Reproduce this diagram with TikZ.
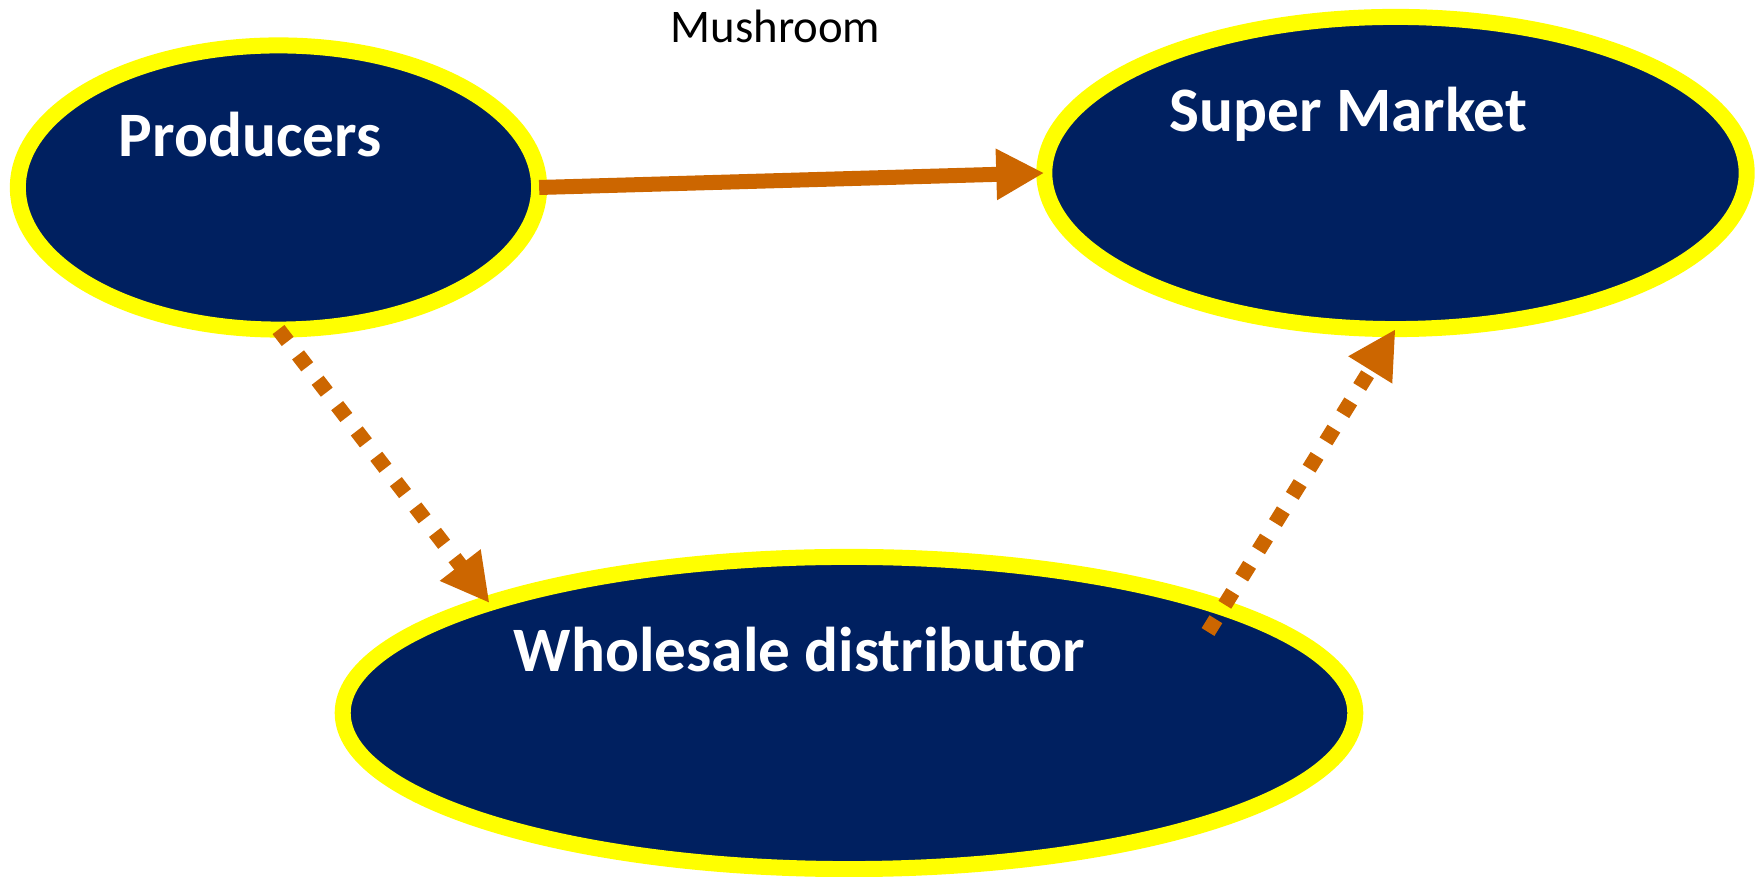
\documentclass[tikz,border=0pt]{standalone}
\usepackage{fontspec}
\setmainfont{Carlito}
\usetikzlibrary{shapes.geometric,arrows.meta}
\definecolor{navy}{HTML}{002060}
\definecolor{rim}{HTML}{FFFF00}
\definecolor{flow}{HTML}{CC6600}
\begin{document}
\begin{tikzpicture}[x=0.01cm, y=-0.01cm,
  market/.style={ellipse, draw=rim, fill=navy, line width=0.16cm, inner sep=0pt, outer sep=0pt},
  tagtext/.style={anchor=base west, inner sep=0pt, text=white, font=\fontsize{18}{20}\selectfont\bfseries},
  flowline/.style={draw=flow, line width=0.15cm, -{Triangle[length=0.48cm, width=0.48cm]}},
  dottedflow/.style={flowline, dash pattern=on 0.15cm off 0.17cm}]
  \useasboundingbox (0,0) rectangle (1763,877);

  % the three market actors
  \node[market, minimum width=5.21cm, minimum height=2.84cm] (prod) at (278.5,187.5) {};
  \node[market, minimum width=7.02cm, minimum height=3.12cm] (super) at (1395.5,173) {};
  \node[market, minimum width=10.12cm, minimum height=3.12cm] (whole) at (849,713) {};

  % captions
  \node[tagtext] (prodtext) at (118,157) {Producers};
  \node[tagtext] (supertext) at (1169,132) {Super Market};
  \node[tagtext] (wholetext) at (513,672) {Wholesale distributor};
  \node[anchor=base west, inner sep=0pt, font=\fontsize{13.3}{16}\selectfont] (title) at (670,43) {Mushroom};

  % flows of product
  \coordinate (wstart) at (1208,632);
  \draw[flowline] (prod.east) -- (super.west);
  \draw[dottedflow] (prod.south) -- (whole.163);
  \draw[dottedflow] (wstart) -- (super.south);
\end{tikzpicture}
\end{document}
